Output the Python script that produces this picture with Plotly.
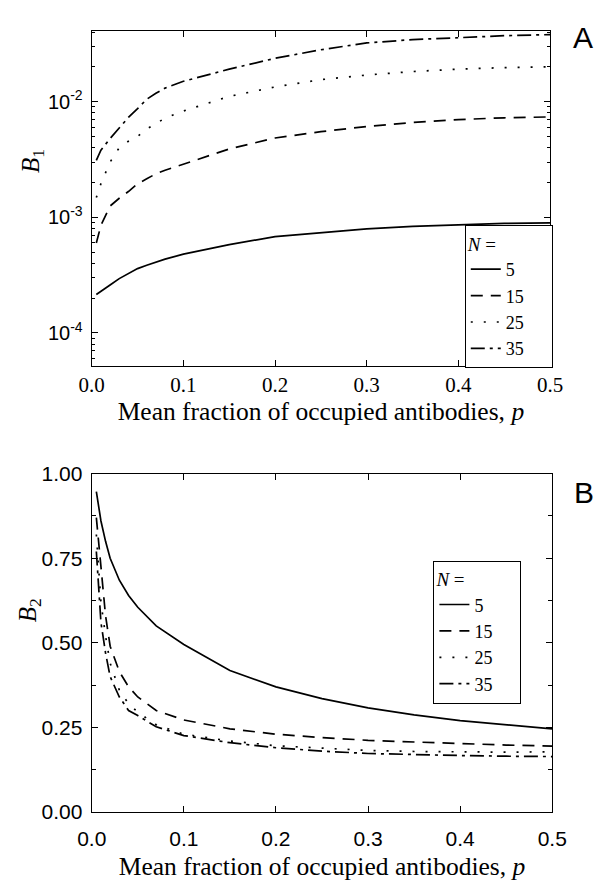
import plotly.graph_objects as go

# Mean fraction of occupied antibodies
p_a = [0.005, 0.01, 0.02, 0.03, 0.04, 0.05, 0.06, 0.07, 0.08, 0.1, 0.15, 0.2, 0.25, 0.3, 0.35, 0.4, 0.45, 0.5]
p_b = [0.005, 0.01, 0.015, 0.02, 0.03, 0.04, 0.05, 0.07, 0.1, 0.15, 0.2, 0.25, 0.3, 0.35, 0.4, 0.45, 0.5]

n_values = ["5", "15", "25", "35"]

# Panel A: B1 (log scale)
b1_n5 = [2.15e-4, 2.3e-4, 2.6e-4, 2.95e-4, 3.25e-4, 3.6e-4, 3.85e-4, 4.1e-4, 4.35e-4, 4.8e-4, 5.8e-4, 6.8e-4, 7.4e-4, 7.95e-4, 8.35e-4, 8.65e-4, 8.85e-4, 8.95e-4]
b1_n15 = [6.0e-4, 8.5e-4, 1.25e-3, 1.46e-3, 1.67e-3, 1.95e-3, 2.15e-3, 2.38e-3, 2.55e-3, 2.87e-3, 3.9e-3, 4.85e-3, 5.5e-3, 6.1e-3, 6.6e-3, 7.0e-3, 7.25e-3, 7.38e-3]
b1_n25 = [1.48e-3, 1.95e-3, 3.0e-3, 4.0e-3, 4.55e-3, 5.0e-3, 5.8e-3, 6.5e-3, 7.2e-3, 8.3e-3, 1.11e-2, 1.34e-2, 1.55e-2, 1.7e-2, 1.82e-2, 1.91e-2, 1.97e-2, 2.0e-2]
b1_n35 = [3.1e-3, 3.8e-3, 4.8e-3, 5.9e-3, 7.3e-3, 8.7e-3, 1.05e-2, 1.18e-2, 1.31e-2, 1.5e-2, 1.91e-2, 2.37e-2, 2.81e-2, 3.22e-2, 3.44e-2, 3.57e-2, 3.72e-2, 3.8e-2]

# Panel B: B2 (linear scale)
b2_n5 = [0.947, 0.86, 0.80, 0.75, 0.685, 0.64, 0.605, 0.55, 0.495, 0.418, 0.37, 0.335, 0.308, 0.287, 0.27, 0.257, 0.246]
b2_n15 = [0.87, 0.72, 0.58, 0.49, 0.415, 0.37, 0.34, 0.30, 0.272, 0.246, 0.23, 0.22, 0.212, 0.207, 0.202, 0.198, 0.195]
b2_n25 = [0.82, 0.62, 0.52, 0.44, 0.36, 0.32, 0.295, 0.258, 0.23, 0.21, 0.196, 0.188, 0.182, 0.179, 0.177, 0.177, 0.178]
b2_n35 = [0.77, 0.56, 0.47, 0.40, 0.34, 0.30, 0.285, 0.252, 0.226, 0.205, 0.19, 0.18, 0.173, 0.169, 0.167, 0.165, 0.164]

x_ticks = [0, 0.1, 0.2, 0.3, 0.4, 0.5]
x_labels = ["0.0", "0.1", "0.2", "0.3", "0.4", "0.5"]
b1_ticks = [1e-4, 1e-3, 1e-2]
b1_labels = ["10<sup>-4</sup>", "10<sup>-3</sup>", "10<sup>-2</sup>"]
b2_ticks = [0, 0.25, 0.5, 0.75, 1.0]
b2_labels = ["0.00", "0.25", "0.50", "0.75", "1.00"]

dashes = ["solid", "12px,8px", "2px,11px", "14px,5px,3px,5px"]

SERIF = "Liberation Serif"
SANS = "Liberation Sans"
W, H = 611, 881

fig = go.Figure()

for name, ys, dash in zip(n_values, [b1_n5, b1_n15, b1_n25, b1_n35], dashes):
    fig.add_trace(go.Scatter(x=p_a, y=ys, mode="lines", name=name,
                             line=dict(color="black", width=1.7, dash=dash),
                             xaxis="x", yaxis="y", legend="legend"))

for name, ys, dash in zip(n_values, [b2_n5, b2_n15, b2_n25, b2_n35], dashes):
    fig.add_trace(go.Scatter(x=p_b, y=ys, mode="lines", name=name,
                             line=dict(color="black", width=1.7, dash=dash),
                             xaxis="x2", yaxis="y2", legend="legend2"))

axis_common = dict(showline=True, linecolor="black", linewidth=1.3, mirror="ticks",
                   ticks="inside", ticklen=6, tickwidth=1, tickcolor="black",
                   showgrid=False, zeroline=False)

xtitle = "Mean fraction of occupied antibodies, <i>p</i>"
# the trailing non-breaking spaces widen the legend box
legend_title = "<i>N</i> =" + "&nbsp;" * 11
legend_common = dict(xanchor="left", yanchor="top", bgcolor="white",
                     bordercolor="black", borderwidth=1,
                     font=dict(family=SERIF, size=18, color="black"),
                     title=dict(text=legend_title, font=dict(family=SERIF, size=19, color="black")),
                     tracegroupgap=0)

fig.update_layout(
    width=W, height=H,
    margin=dict(l=0, r=0, t=0, b=0),
    paper_bgcolor="white", plot_bgcolor="white",
    xaxis=dict(domain=[80.7 / W, 562.7 / W], range=[0, 0.5], anchor="y",
               tickvals=x_ticks, ticktext=x_labels,
               tickfont=dict(family=SERIF, size=21, color="black"), ticklabelstandoff=0,
               title=dict(text=xtitle, font=dict(family=SERIF, size=25.5, color="black"), standoff=3),
               **axis_common),
    yaxis=dict(domain=[1 - 363.5 / H, 1 - 19.5 / H], type="log", range=[-4.286, -1.389], anchor="x",
               tickvals=b1_ticks, ticktext=b1_labels,
               tickfont=dict(family=SANS, size=20, color="black"), ticklabelstandoff=4,
               minor=dict(ticks="inside", ticklen=3, tickcolor="black", dtick="D1", showgrid=False),
               **axis_common),
    xaxis2=dict(domain=[80.7 / W, 565 / W], range=[0, 0.5], anchor="y2",
                tickvals=x_ticks, ticktext=x_labels,
                tickfont=dict(family=SANS, size=21, color="black"), ticklabelstandoff=8,
                title=dict(text=xtitle, font=dict(family=SERIF, size=25.5, color="black"), standoff=13),
                **axis_common),
    yaxis2=dict(domain=[1 - 821.5 / H, 1 - 474 / H], range=[0, 1], anchor="x2",
                tickvals=b2_ticks, ticktext=b2_labels,
                tickfont=dict(family=SANS, size=21, color="black"), ticklabelstandoff=4,
                minor=dict(ticks="inside", ticklen=4, tickcolor="black", dtick=0.125, showgrid=False),
                **axis_common),
    legend=dict(x=473 / W, y=1 - 219 / H, **legend_common),
    legend2=dict(x=440 / W, y=1 - 563.3 / H, **legend_common),
    showlegend=True,
    annotations=[
        dict(text="<i>B</i><sub>1</sub>", x=18 / W, y=1 - 153 / H, xref="paper", yref="paper",
             xanchor="center", yanchor="middle",
             textangle=-90, showarrow=False, font=dict(family=SERIF, size=25, color="black")),
        dict(text="<i>B</i><sub>2</sub>", x=16 / W, y=1 - 614 / H, xref="paper", yref="paper",
             xanchor="center", yanchor="middle",
             textangle=-90, showarrow=False, font=dict(family=SERIF, size=25, color="black")),
        dict(text="A", x=597 / W, y=1 - 26 / H, xref="paper", yref="paper",
             xanchor="center", yanchor="middle",
             showarrow=False, font=dict(family=SANS, size=30, color="black")),
        dict(text="B", x=598 / W, y=1 - 493 / H, xref="paper", yref="paper",
             xanchor="center", yanchor="middle",
             showarrow=False, font=dict(family=SANS, size=30, color="black")),
    ],
)

fig.write_html("out.html")
